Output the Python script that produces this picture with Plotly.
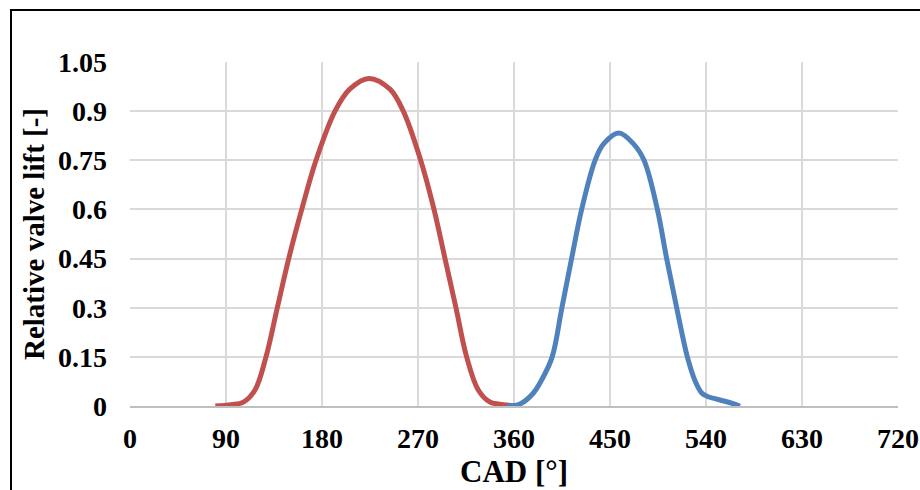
import plotly.graph_objects as go

# Relative valve lift vs crank angle
red_cad = [80, 95, 106.3, 117.2, 127.5, 138.1, 148.8, 161, 174.4, 192.2, 206, 224,
           243.7, 256.2, 272.5, 285, 295.3, 305.6, 315.6, 326.5, 337.5, 350, 365]
red_lift = [0.0, 0.004, 0.012, 0.049, 0.15, 0.30, 0.45, 0.60, 0.75, 0.90, 0.967, 1.0,
            0.967, 0.90, 0.75, 0.60, 0.45, 0.30, 0.15, 0.049, 0.012, 0.004, 0.0]

blue_cad = [353, 365.6, 378, 386, 395.8, 404.9, 414, 423.4, 436, 444, 458.4, 472,
            481.9, 494.4, 503.1, 512.5, 522.5, 530, 536, 541, 559.4, 571.9]
blue_lift = [0.0, 0.006, 0.039, 0.08, 0.15, 0.30, 0.45, 0.60, 0.75, 0.80, 0.833, 0.80,
             0.75, 0.60, 0.45, 0.30, 0.15, 0.075, 0.04, 0.03, 0.013, 0.0]

x_ticks = [0, 90, 180, 270, 360, 450, 540, 630, 720]
y_ticks = [0, 0.15, 0.3, 0.45, 0.6, 0.75, 0.9, 1.05]
y_tick_text = ["0", "0.15", "0.3", "0.45", "0.6", "0.75", "0.9", "1.05"]

FONT = "Liberation Serif"

fig = go.Figure()
fig.add_trace(go.Scatter(x=red_cad, y=red_lift, mode="lines",
                         line=dict(color="#c0504d", width=5, shape="spline", smoothing=1.0),
                         showlegend=False, hoverinfo="skip"))
fig.add_trace(go.Scatter(x=blue_cad, y=blue_lift, mode="lines",
                         line=dict(color="#4f81bd", width=5, shape="spline", smoothing=1.0),
                         showlegend=False, hoverinfo="skip"))

W, H = 920, 490
L, T = 130, 62
R = W - 898
B = H - 406
pw, ph = W - L - R, H - T - B

fig.update_layout(
    width=W, height=H,
    margin=dict(l=L, r=R, t=T, b=B, pad=0, autoexpand=False),
    paper_bgcolor="white", plot_bgcolor="white",
    font=dict(family=FONT, color="black", size=28, weight="bold"),
    xaxis=dict(range=[0, 720], tickvals=x_ticks, showgrid=True, gridcolor="#d9d9d9",
               gridwidth=2, showline=True, linecolor="#bfbfbf", linewidth=2,
               zeroline=False, ticks="", ticklabelstandoff=6, automargin=False,
               tickfont=dict(family=FONT, size=28, weight="bold"),
               title=dict(text="CAD [°]", font=dict(family=FONT, size=31, weight="bold"),
                          standoff=0)),
    yaxis=dict(range=[0, 1.05], tickvals=y_ticks, ticktext=y_tick_text, showgrid=True,
               gridcolor="#d9d9d9", gridwidth=2, zeroline=False, showline=False,
               ticks="", ticklabelstandoff=22, automargin=False,
               tickfont=dict(family=FONT, size=28, weight="bold"),
               title=dict(text="Relative valve lift [-]",
                          font=dict(family=FONT, size=29, weight="bold"), standoff=4)),
)

# outer chart border (cropped at right and bottom in the original)
fig.add_shape(type="rect", xref="paper", yref="paper",
              x0=(11 - L) / pw, x1=(940 - L) / pw,
              y0=-(520 - 406) / ph, y1=(406 - 10) / ph,
              line=dict(color="black", width=2), fillcolor="rgba(0,0,0,0)", layer="above")

fig.write_html(
    "out.html",
    config={"displayModeBar": False},
    post_script="document.body.style.margin='0';document.body.style.overflow='hidden';",
)
